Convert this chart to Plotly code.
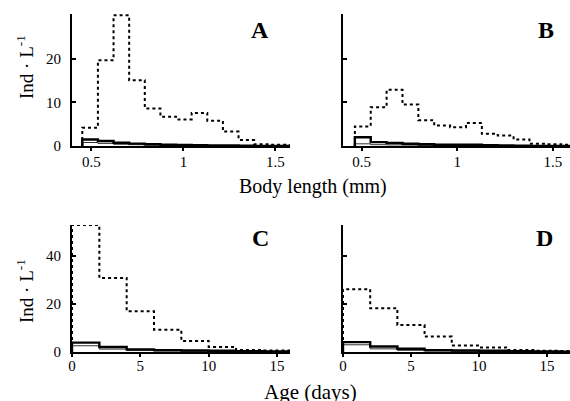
import plotly.graph_objects as go

# ---- Data ----
len_edges_A = [0.45, 0.535, 0.62, 0.705, 0.79, 0.875, 0.96, 1.045, 1.13, 1.215, 1.30, 1.385, 1.47, 1.555, 1.64]
len_edges_B = [0.465, 0.548, 0.631, 0.714, 0.797, 0.880, 0.963, 1.046, 1.129, 1.212, 1.295, 1.378, 1.461, 1.544, 1.627]
A_dotted = [4.2, 19.7, 30.0, 15.1, 8.6, 6.7, 6.1, 7.6, 5.8, 3.3, 1.4, 0.4, 0.3, 0.2]
A_thick  = [1.5, 1.15, 0.75, 0.55, 0.4, 0.3, 0.25, 0.2, 0.15, 0.1, 0.05, 0.03, 0.02, 0.01]
A_thin   = [0.8, 0.6, 0.4, 0.3, 0.2, 0.15, 0.1, 0.08, 0.05, 0.03, 0.02, 0.01, 0.01, 0.0]
B_dotted = [4.5, 8.9, 12.9, 9.5, 5.9, 4.7, 4.3, 5.3, 2.8, 2.4, 1.5, 0.5, 0.4, 0.3]
B_thick  = [2.0, 0.9, 0.7, 0.5, 0.4, 0.3, 0.3, 0.3, 0.2, 0.1, 0.05, 0.03, 0.02, 0.01]
B_thin   = [0.5, 0.3, 0.25, 0.2, 0.15, 0.1, 0.1, 0.08, 0.05, 0.03, 0.02, 0.01, 0.01, 0.0]

age_edges = [0, 2, 4, 6, 8, 10, 12, 14, 16, 18]
C_dotted = [52.8, 30.8, 16.9, 9.3, 4.6, 2.1, 0.8, 0.6, 0.5]
C_thick  = [3.9, 2.1, 1.1, 0.8, 0.6, 0.5, 0.3, 0.2, 0.1]
C_thin   = [2.6, 1.2, 0.6, 0.4, 0.3, 0.2, 0.1, 0.05, 0.02]
D_dotted = [26.1, 18.2, 11.2, 6.4, 2.7, 1.9, 0.8, 0.5, 0.4]
D_thick  = [4.1, 2.3, 1.35, 0.8, 0.6, 0.5, 0.3, 0.2, 0.1]
D_thin   = [3.0, 1.3, 0.7, 0.4, 0.3, 0.2, 0.1, 0.05, 0.02]

len_ticks = [0.5, 1, 1.5]
len_ticklabels = ["0.5", "1", "1.5"]
age_ticks = [0, 5, 10, 15]
age_ticklabels = ["0", "5", "10", "15"]
top_yticks = [0, 10, 20]
bot_yticks = [0, 20, 40]

W, H = 570, 401
FONT = "Liberation Serif"

def px_x(a, b):
    return [a / W, b / W]

def px_y(top, bottom):
    return [1 - bottom / H, 1 - top / H]

def step(edges, vals):
    x = [edges[0]] + list(edges[: len(vals) + 1])
    y = [0] + list(vals) + [vals[-1]]
    return x, y

fig = go.Figure()

panels = [
    ("A", "x", "y", len_edges_A, A_dotted, A_thick, A_thin),
    ("B", "x2", "y2", len_edges_B, B_dotted, B_thick, B_thin),
    ("C", "x3", "y3", age_edges, C_dotted, C_thick, C_thin),
    ("D", "x4", "y4", age_edges, D_dotted, D_thick, D_thin),
]

for name, xa, ya, edges, dot, thick, thin in panels:
    for vals, style in [(thin, dict(width=1, color="#333")),
                        (thick, dict(width=2.4, color="black")),
                        (dot, dict(width=2, color="black", dash="dot"))]:
        x, y = step(edges, vals)
        fig.add_trace(go.Scatter(x=x, y=y, mode="lines", line_shape="hv",
                                 line=style, xaxis=xa, yaxis=ya,
                                 showlegend=False, hoverinfo="skip", cliponaxis=True))

tickfont = dict(family=FONT, size=15, color="black")
base_x = dict(showline=True, linewidth=2, linecolor="black", ticks="outside",
              ticklen=3, tickwidth=1.5, tickcolor="black", showgrid=False,
              zeroline=False, tickfont=tickfont, automargin=False)
common_y = dict(showline=True, linewidth=2, linecolor="black", ticks="inside",
                ticklen=4, tickwidth=1.5, tickcolor="black", showgrid=False,
                zeroline=False, tickfont=tickfont, ticklabelstandoff=6,
                automargin=False)
top_x = dict(base_x, ticklabelstandoff=-2)
bot_x = dict(base_x, ticklabelstandoff=-4)

fig.update_layout(
    width=W, height=H, margin=dict(l=0, r=0, t=0, b=0, autoexpand=False),
    plot_bgcolor="white", paper_bgcolor="white",
    font=dict(family=FONT, color="black"),
    xaxis=dict(domain=px_x(72, 290), range=[0.394, 1.58], anchor="y",
               tickvals=len_ticks, ticktext=len_ticklabels, **top_x),
    yaxis=dict(domain=px_y(14, 146), range=[0, 30.3], anchor="x",
               tickvals=top_yticks, ticktext=[str(v) for v in top_yticks], **common_y),
    xaxis2=dict(domain=px_x(343, 570), range=[0.403, 1.59], anchor="y2",
                tickvals=len_ticks, ticktext=len_ticklabels, **top_x),
    yaxis2=dict(domain=px_y(14, 146), range=[0, 30.3], anchor="x2",
                tickvals=top_yticks, showticklabels=False, **common_y),
    xaxis3=dict(domain=px_x(72, 290), range=[0, 15.95], anchor="y3",
                tickvals=age_ticks, ticktext=age_ticklabels, **bot_x),
    yaxis3=dict(domain=px_y(225, 352), range=[0, 52.8], anchor="x3",
                tickvals=bot_yticks, ticktext=[str(v) for v in bot_yticks], **common_y),
    xaxis4=dict(domain=px_x(343, 570), range=[0, 16.7], anchor="y4",
                tickvals=age_ticks, ticktext=age_ticklabels, **bot_x),
    yaxis4=dict(domain=px_y(225, 352), range=[0, 52.8], anchor="x4",
                tickvals=bot_yticks, showticklabels=False, **common_y),
)

letter_font = dict(family=FONT, size=24, color="black")
ann = [
    dict(text="<b>A</b>", x=260 / W, y=1 - 30 / H),
    dict(text="<b>B</b>", x=546 / W, y=1 - 30 / H),
    dict(text="<b>C</b>", x=260 / W, y=1 - 238 / H),
    dict(text="<b>D</b>", x=544 / W, y=1 - 238 / H),
]
for a in ann:
    fig.add_annotation(xref="paper", yref="paper", showarrow=False,
                       xanchor="center", yanchor="middle", font=letter_font, **a)

fig.add_annotation(text="Body length (mm)", xref="paper", yref="paper",
                   x=313 / W, y=1 - 186 / H, showarrow=False,
                   xanchor="center", yanchor="middle",
                   font=dict(family=FONT, size=20, color="black"))
fig.add_annotation(text="Age (days)", xref="paper", yref="paper",
                   x=310 / W, y=0, showarrow=False,
                   xanchor="center", yanchor="bottom", yshift=-5,
                   font=dict(family=FONT, size=21, color="black"))
for yc in [67, 291]:
    fig.add_annotation(text="Ind · L<sup>-1</sup>", xref="paper", yref="paper",
                       x=25 / W, y=1 - yc / H, showarrow=False, textangle=-90,
                       xanchor="center", yanchor="middle",
                       font=dict(family=FONT, size=19, color="black"))

fig.write_html("out.html")
